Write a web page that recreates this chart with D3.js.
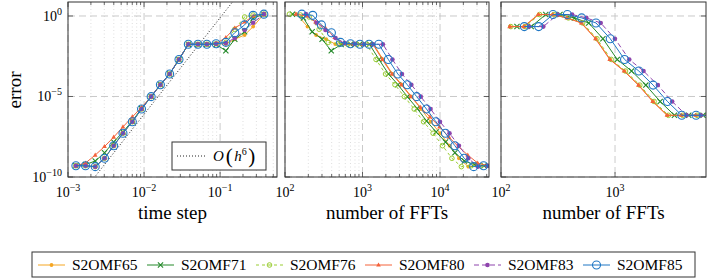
<!DOCTYPE html>
<html>
<head>
<meta charset="utf-8">
<script src="https://cdn.jsdelivr.net/npm/d3@7"></script>
<style>
  body { margin: 0; background: #fff; }
  svg, text, tspan { font-family: "Liberation Serif", "Times New Roman", serif; }
  text { fill: #000; }
</style>
</head>
<body>
<svg id="chart" width="708" height="279" font-family="Liberation Serif, serif"></svg>
<script>
// ---- data ----
const seriesNames = ['S2OMF65', 'S2OMF71', 'S2OMF76', 'S2OMF80', 'S2OMF83', 'S2OMF85'];

// left panel: time steps (shared by all methods)
const timeSteps = [0.00127, 0.0017, 0.00228, 0.00302, 0.00399, 0.00528, 0.00701, 0.00927, 0.0124, 0.0164,
  0.0217, 0.0288, 0.0382, 0.0511, 0.067, 0.0887, 0.119, 0.156, 0.21, 0.272, 0.376];

// errors per method (left and middle panel)
const err65 = [5.0e-10, 5.0e-10, 4.4e-10, 1.45e-9, 8.8e-9, 5.2e-8, 2.7e-7, 1.67e-6, 9.8e-6, 5.4e-5,
  2.5e-4, 2.0e-3, 1.75e-2, 1.75e-2, 1.75e-2, 1.9e-2, 1.8e-2, 3.6e-2, 6.6e-2, 0.22, 1.3];
const err71 = [5.0e-10, 6.0e-10, 9.8e-10, 3.2e-9, 1.5e-8, 6.3e-8, 3.0e-7, 1.8e-6, 9.8e-6, 5.4e-5,
  2.5e-4, 2.0e-3, 1.75e-2, 1.75e-2, 1.75e-2, 1.7e-2, 6.9e-3, 3.6e-2, 0.105, 0.75, 1.3];
const err76 = [5.0e-10, 5.0e-10, 4.4e-10, 1.45e-9, 8.8e-9, 5.2e-8, 2.7e-7, 1.67e-6, 9.8e-6, 5.4e-5,
  2.5e-4, 2.0e-3, 1.75e-2, 1.75e-2, 1.75e-2, 1.9e-2, 2.3e-2, 0.15, 0.87, 1.15, 1.3];
const err80 = [5.0e-10, 7.4e-10, 2.3e-9, 7.8e-9, 3.0e-8, 1.3e-7, 5.4e-7, 2.1e-6, 1.0e-5, 5.4e-5,
  2.5e-4, 2.0e-3, 1.75e-2, 1.75e-2, 1.75e-2, 1.9e-2, 4.6e-2, 0.18, 0.42, 1.0, 1.3];
const err83 = [5.0e-10, 5.0e-10, 4.4e-10, 1.45e-9, 8.8e-9, 5.2e-8, 2.7e-7, 1.67e-6, 9.8e-6, 5.4e-5,
  2.5e-4, 2.0e-3, 1.75e-2, 1.75e-2, 1.75e-2, 1.9e-2, 2.1e-2, 4.3e-2, 0.135, 0.38, 1.3];
const err85 = [5.0e-10, 5.0e-10, 4.4e-10, 1.45e-9, 8.8e-9, 5.2e-8, 2.7e-7, 1.67e-6, 9.8e-6, 5.4e-5,
  2.5e-4, 2.0e-3, 1.75e-2, 1.75e-2, 1.75e-2, 1.9e-2, 2.3e-2, 9.2e-2, 0.28, 1.1, 1.3];

// middle panel: number of FFTs per method
const fft65 = [41732, 31176, 23246, 17550, 13283, 10038, 7561, 5717, 4274, 3232, 2442, 1840, 1387, 1037, 791, 598, 445, 340, 252, 195, 141];
const fft71 = [37008, 27647, 20614, 15563, 11779, 8902, 6705, 5070, 3790, 2866, 2166, 1632, 1230, 920, 701, 530, 395, 301, 224, 173, 125];
const fft76 = [33858, 25294, 18860, 14238, 10777, 8144, 6134, 4639, 3468, 2622, 1982, 1493, 1126, 841, 642, 485, 361, 276, 205, 158, 114];
const fft80 = [40945, 30588, 22807, 17219, 13033, 9848, 7418, 5609, 4194, 3171, 2396, 1806, 1361, 1018, 776, 586, 437, 333, 248, 191, 138];
const fft83 = [55118, 41176, 30702, 23179, 17544, 13258, 9986, 7551, 5645, 4268, 3226, 2431, 1832, 1370, 1045, 789, 588, 449, 333, 257, 186];
const fft85 = [48819, 36471, 27193, 20530, 15539, 11742, 8845, 6688, 5000, 3780, 2857, 2153, 1623, 1213, 925, 699, 521, 397, 295, 228, 165];

// right panel: number of FFTs per method, shared error profile
const fftR65 = [120, 160, 214, 286, 382, 510, 680, 908, 1212, 1618, 2160, 2884, 3850, 5140, 6860];
const fftR71 = [138, 184, 247, 329, 440, 588, 783, 1046, 1396, 1864, 2488, 3322, 4435, 5921, 7903];
const fftR76 = [122, 163, 218, 292, 390, 520, 694, 926, 1236, 1650, 2203, 2942, 3927, 5243, 6997];
const fftR80 = [119, 158, 212, 283, 378, 505, 673, 899, 1200, 1602, 2138, 2855, 3812, 5089, 6791];
const fftR83 = [176, 235, 314, 420, 561, 749, 998, 1333, 1779, 2375, 3171, 4233, 5651, 7544, 10070];
const fftR85 = [160, 214, 286, 382, 510, 681, 908, 1212, 1618, 2160, 2884, 3850, 5140, 6862, 9160];
const errRight = [0.22, 0.22, 1.23, 1.23, 0.76, 0.37, 0.039, 2.0e-3, 3.8e-4, 5.1e-5, 4.9e-6, 6.8e-7, 6.8e-7, 6.8e-7, 6.8e-7];

// reference slope O(h^6)
const refOrder = 6;
const refCoef = 7.8e5;

// tick values
const xTicksStep = [1e-3, 1e-2, 1e-1];
const xTicksFFT = [1e2, 1e3, 1e4];
const xTicksFFTRight = [1e2, 1e3];
const yTicks = [1e0, 1e-5, 1e-10];

// ---- styles ----
const styles = {
  S2OMF65: { color: '#f5a623', dash: null, mark: 'dot' },
  S2OMF71: { color: '#24892a', dash: null, mark: 'x' },
  S2OMF76: { color: '#9acd32', dash: '3,3', mark: 'ocircle' },
  S2OMF80: { color: '#f4623a', dash: null, mark: 'tri' },
  S2OMF83: { color: '#8e44ad', dash: '5,3', mark: 'dot2' },
  S2OMF85: { color: '#1f77c4', dash: null, mark: 'bigcircle' }
};

const errs = { S2OMF65: err65, S2OMF71: err71, S2OMF76: err76, S2OMF80: err80, S2OMF83: err83, S2OMF85: err85 };
const ffts = { S2OMF65: fft65, S2OMF71: fft71, S2OMF76: fft76, S2OMF80: fft80, S2OMF83: fft83, S2OMF85: fft85 };
const fftsR = { S2OMF65: fftR65, S2OMF71: fftR71, S2OMF76: fftR76, S2OMF80: fftR80, S2OMF83: fftR83, S2OMF85: fftR85 };

const svg = d3.select('#chart');
const yTop = 2, yBot = 177;
const y = d3.scaleLog().domain([7.4, 1e-10]).range([yTop, yBot]);

const panels = [
  { x: d3.scaleLog().domain([1e-3, 0.56]).range([68, 277]), ticks: xTicksStep, minor: true, label: 'time step',
    data: name => timeSteps.map((h, i) => [h, errs[name][i]]) },
  { x: d3.scaleLog().domain([1e2, 4.285e4]).range([285, 489]), ticks: xTicksFFT, minor: true, label: 'number of FFTs',
    data: name => ffts[name].map((n, i) => [n, errs[name][i]]) },
  { x: d3.scaleLog().domain([1e2, 6280]).range([501, 706]), ticks: xTicksFFTRight, minor: false, label: 'number of FFTs',
    data: name => fftsR[name].map((n, i) => [n, errRight[i]]) }
];

function minorTicks(scale) {
  const [a, b] = scale.domain();
  const out = [];
  for (let d = Math.floor(Math.log10(a)); d <= Math.ceil(Math.log10(b)); d++) {
    for (let m = 2; m <= 9; m++) {
      const v = m * Math.pow(10, d);
      if (v > a && v < b) out.push(v);
    }
  }
  return out;
}

function powLabel(sel, v) {
  const e = Math.round(Math.log10(v));
  sel.append('tspan').text('10');
  sel.append('tspan').attr('dy', -6).attr('font-size', 10).text(e < 0 ? '\u2212' + (-e) : String(e));
}

function drawMark(g, type, px, py, color) {
  if (type === 'dot') {
    g.append('circle').attr('cx', px).attr('cy', py).attr('r', 1.9).attr('fill', color);
  } else if (type === 'dot2') {
    g.append('circle').attr('cx', px).attr('cy', py).attr('r', 2.3).attr('fill', color);
  } else if (type === 'x') {
    const s = 2.6;
    g.append('path').attr('d', `M${px - s},${py - s}L${px + s},${py + s}M${px - s},${py + s}L${px + s},${py - s}`)
      .attr('stroke', color).attr('stroke-width', 1.1);
  } else if (type === 'ocircle') {
    g.append('circle').attr('cx', px).attr('cy', py).attr('r', 2.3).attr('fill', 'none')
      .attr('stroke', color).attr('stroke-width', 1);
  } else if (type === 'tri') {
    const s = 2.6;
    g.append('path').attr('d', `M${px},${py - s}L${px + s * 0.9},${py + s * 0.6}L${px - s * 0.9},${py + s * 0.6}Z`)
      .attr('fill', color);
  } else if (type === 'bigcircle') {
    g.append('circle').attr('cx', px).attr('cy', py).attr('r', 4).attr('fill', 'none')
      .attr('stroke', color).attr('stroke-width', 1.1);
  }
}

panels.forEach((p, pi) => {
  const [x0, x1] = p.x.range();
  const g = svg.append('g');
  const clipId = 'clip' + pi;
  svg.append('clipPath').attr('id', clipId).append('rect')
    .attr('x', x0).attr('y', yTop).attr('width', x1 - x0).attr('height', yBot - yTop);

  // grid
  const grid = g.append('g');
  if (p.minor) {
    minorTicks(p.x).forEach(v => {
      grid.append('line').attr('x1', p.x(v)).attr('x2', p.x(v)).attr('y1', yTop).attr('y2', yBot)
        .attr('stroke', '#d6d6d6').attr('stroke-width', 0.8).attr('stroke-dasharray', '1,2.5');
    });
  }
  p.ticks.forEach(v => {
    grid.append('line').attr('x1', p.x(v)).attr('x2', p.x(v)).attr('y1', yTop).attr('y2', yBot)
      .attr('stroke', '#c4c4c4').attr('stroke-width', 0.9).attr('stroke-dasharray', '7,4');
  });
  yTicks.forEach(v => {
    grid.append('line').attr('x1', x0).attr('x2', x1).attr('y1', y(v)).attr('y2', y(v))
      .attr('stroke', '#c4c4c4').attr('stroke-width', 0.9).attr('stroke-dasharray', '7,4');
  });

  // reference line in the left panel
  const plot = g.append('g').attr('clip-path', `url(#${clipId})`);
  if (pi === 0) {
    const dom = p.x.domain();
    const pts = [dom[0], dom[1]].map(h => [h, refCoef * Math.pow(h, refOrder)]);
    plot.append('path').attr('d', d3.line().x(d => p.x(d[0])).y(d => y(d[1]))(pts))
      .attr('fill', 'none').attr('stroke', '#222').attr('stroke-width', 1).attr('stroke-dasharray', '1,2');
  }

  // series
  seriesNames.forEach(name => {
    const st = styles[name];
    const pts = p.data(name);
    plot.append('path').attr('d', d3.line().x(d => p.x(d[0])).y(d => y(d[1]))(pts))
      .attr('fill', 'none').attr('stroke', st.color).attr('stroke-width', 1)
      .attr('stroke-dasharray', st.dash);
    const mg = plot.append('g');
    pts.forEach(d => drawMark(mg, st.mark, p.x(d[0]), y(d[1]), st.color));
  });

  // tick marks
  const tk = g.append('g').attr('stroke', '#444').attr('stroke-width', 0.8);
  p.ticks.forEach(v => {
    tk.append('line').attr('x1', p.x(v)).attr('x2', p.x(v)).attr('y1', yBot).attr('y2', yBot - 5);
    tk.append('line').attr('x1', p.x(v)).attr('x2', p.x(v)).attr('y1', yTop).attr('y2', yTop + 5);
  });
  if (p.minor) {
    minorTicks(p.x).forEach(v => {
      tk.append('line').attr('x1', p.x(v)).attr('x2', p.x(v)).attr('y1', yBot).attr('y2', yBot - 3);
      tk.append('line').attr('x1', p.x(v)).attr('x2', p.x(v)).attr('y1', yTop).attr('y2', yTop + 3);
    });
  }
  yTicks.forEach(v => {
    tk.append('line').attr('x1', x0).attr('x2', x0 + 5).attr('y1', y(v)).attr('y2', y(v));
    tk.append('line').attr('x1', x1).attr('x2', x1 - 5).attr('y1', y(v)).attr('y2', y(v));
  });

  // frame
  g.append('rect').attr('x', x0).attr('y', yTop).attr('width', x1 - x0).attr('height', yBot - yTop)
    .attr('fill', 'none').attr('stroke', '#333').attr('stroke-width', 1);

  // x tick labels
  p.ticks.forEach(v => {
    const t = g.append('text').attr('x', p.x(v)).attr('y', 197).attr('text-anchor', 'middle')
      .attr('font-size', 14);
    powLabel(t, v);
  });

  // x axis label
  g.append('text').attr('x', (x0 + x1) / 2).attr('y', 219).attr('text-anchor', 'middle')
    .attr('font-size', 19).text(p.label);

  // y tick labels on the left panel
  if (pi === 0) {
    yTicks.forEach(v => {
      const t = g.append('text').attr('x', 62).attr('y', y(v) + 5).attr('text-anchor', 'end')
        .attr('font-size', 14);
      powLabel(t, v);
    });
    g.append('text').attr('transform', 'translate(21,90) rotate(-90)').attr('text-anchor', 'middle')
      .attr('font-size', 19).text('error');

    // inner legend for the reference line
    const lg = g.append('g');
    lg.append('rect').attr('x', 172).attr('y', 142).attr('width', 94).attr('height', 28)
      .attr('fill', '#fff').attr('stroke', '#333').attr('stroke-width', 1);
    lg.append('line').attr('x1', 177).attr('x2', 207).attr('y1', 156).attr('y2', 156)
      .attr('stroke', '#222').attr('stroke-width', 1).attr('stroke-dasharray', '1,2');
    const lt = lg.append('text').attr('x', 213).attr('y', 161).attr('font-size', 15);
    lt.append('tspan').attr('font-style', 'italic').text('O');
    lt.append('tspan').attr('dx', 2).attr('font-size', 21).attr('dy', 1.5).text('(');
    lt.append('tspan').attr('dx', 1.5).attr('font-style', 'italic').attr('dy', -1.5).text('h');
    lt.append('tspan').attr('font-size', 10).attr('dy', -6).text('6');
    lt.append('tspan').attr('dx', 1.5).attr('font-size', 21).attr('dy', 7.5).text(')');
  }
});

// bottom legend
const legend = svg.append('g');
legend.append('rect').attr('x', 32).attr('y', 252).attr('width', 663).attr('height', 25)
  .attr('fill', '#fff').attr('stroke', '#333').attr('stroke-width', 1);
seriesNames.forEach((name, i) => {
  const st = styles[name];
  const lx = 38 + 109 * i, ly = 265;
  legend.append('line').attr('x1', lx).attr('x2', lx + 27).attr('y1', ly).attr('y2', ly)
    .attr('stroke', st.color).attr('stroke-width', 1).attr('stroke-dasharray', st.dash);
  drawMark(legend, st.mark, lx + 13.5, ly, st.color);
  legend.append('text').attr('x', lx + 34).attr('y', ly + 5).attr('font-size', 15.5).text(name);
});
</script>
</body>
</html>
